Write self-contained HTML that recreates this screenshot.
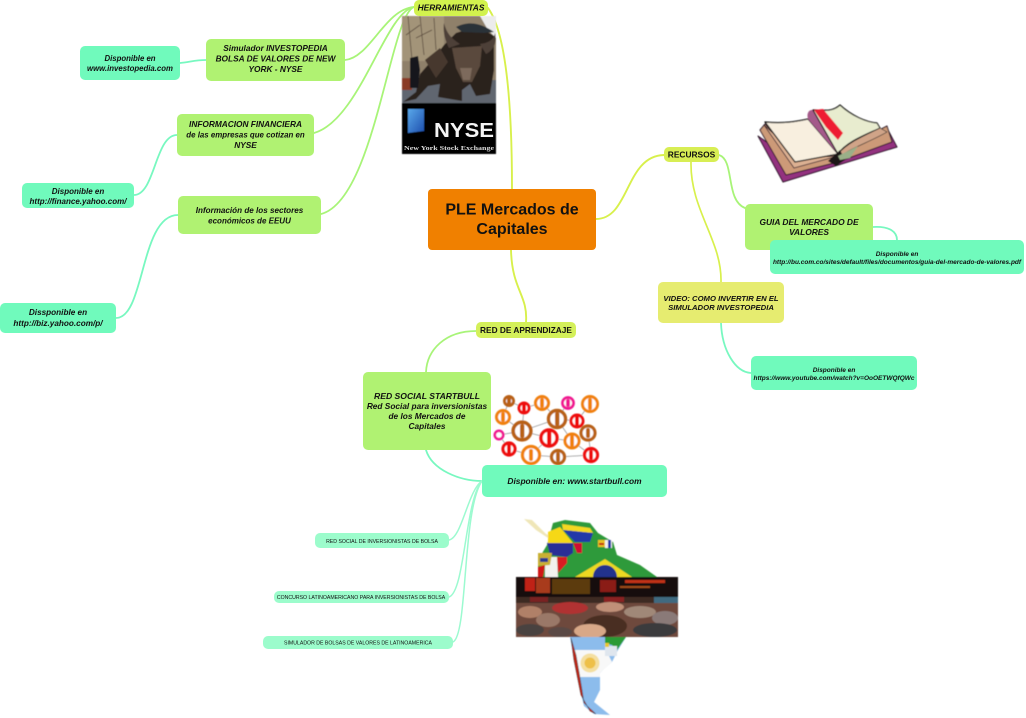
<!DOCTYPE html>
<html>
<head>
<meta charset="utf-8">
<style>
html,body{margin:0;padding:0;background:#fff;width:1026px;height:718px;overflow:hidden}
svg{display:block}
text{font-family:"Liberation Sans",sans-serif;fill:#111;text-anchor:middle;filter:blur(.25px)}
.bi{font-weight:bold;font-style:italic}
.b{font-weight:bold}
</style>
</head>
<body>
<svg width="1026" height="718" viewBox="0 0 1026 718" xmlns="http://www.w3.org/2000/svg">
<defs>
<filter id="bl" x="-5%" y="-5%" width="110%" height="110%"><feGaussianBlur stdDeviation="0.6"/></filter>
<filter id="bl2" x="-5%" y="-5%" width="110%" height="110%"><feGaussianBlur stdDeviation="1"/></filter>
<linearGradient id="nb" x1="0" y1="0" x2="1" y2="1"><stop offset="0" stop-color="#5aa8ea"/><stop offset="1" stop-color="#1d4fae"/></linearGradient>
</defs>

<!-- connectors -->
<g fill="none" stroke-linecap="round">
<g stroke="#d8f04c" stroke-width="1.9">
<path d="M512 189C512 120 508 35 488 8"/>
<path d="M596 219C630 219 625 156 664 155"/>
<path d="M511 250C512 290 528 295 526 322"/>
</g>
<g stroke="#a8f478" stroke-width="1.8">
<path d="M414 7C385 9 370 58 345 60"/>
<path d="M414 7C385 12 360 120 314 133"/>
<path d="M414 7C390 15 375 200 321 214"/>
<path d="M476 331C445 331 427 350 426 372"/>
<path d="M719 155C735 160 725 200 745 208"/>
</g>
<g stroke="#d8f04c" stroke-width="1.7">
<path d="M691 162C690 210 722 240 721 282"/>
</g>
<g stroke="#78f8c0" stroke-width="1.8">
<path d="M206 60C195 60 190 62 180 63"/>
<path d="M177 135C155 135 155 195 134 195"/>
<path d="M178 215C140 215 145 318 116 318"/>
<path d="M873 227C890 226 897 232 897 240"/>
<path d="M721 323C722 350 735 372 751 373"/>
<path d="M426 450C432 470 460 481 482 481"/>
</g>
<g stroke="#9cfad0" stroke-width="1.5">
<path d="M449 540C462 538 468 490 482 481"/>
<path d="M449 597C465 592 465 500 482 481"/>
<path d="M453 642C468 635 462 510 482 481"/>
</g>
</g>

<!-- NYSE image -->
<g filter="url(#bl)">
<rect x="402" y="16" width="94" height="87" fill="#8f806a"/>
<rect x="402" y="16" width="42" height="45" fill="#a39479"/>
<g stroke="#5a4a3c" stroke-width="0.8" fill="none">
<path d="M408 16L412 60M406 35L420 25M420 16L424 55M416 38L432 30M434 18L436 50"/>
</g>
<path d="M480 16L496 16L496 38L488 30Z" fill="#ececec"/>
<rect x="402" y="80" width="94" height="23" fill="#606670"/>
<rect x="402" y="78" width="10" height="12" fill="#8a3a28"/>
<path d="M403 102L416 92L420 74L434 58L444 45L456 33L478 26L494 36L494 70L490 94L476 96L470 84L462 90L462 101L438 97L440 84L428 86L416 99Z" fill="#2b221d"/>
<path d="M456 27C470 20 482 24 494 32L484 33L462 32Z" fill="#2a3238"/>
<path d="M449 48C444 38 443 30 444 23C447 34 451 38 460 44Z" fill="#4d4038"/>
<path d="M480 44C488 43 494 40 495 33C497 42 494 50 486 54Z" fill="#4d4038"/>
<path d="M452 48L482 46L480 66L472 82L463 82L456 68Z" fill="#5a4a3e"/>
<path d="M460 68L472 68L470 80L463 80Z" fill="#7d6a5c"/>
<path d="M425 60L440 48L448 62L436 78Z" fill="#46392f"/>
<path d="M410 58L418 56L420 70L418 88L410 88Z" fill="#16181e"/>
<rect x="402" y="103" width="94" height="51" fill="#050305"/>
<path d="M408 109L424 109L424 131L408 133Z" fill="url(#nb)"/>
</g>
<text x="464" y="137" class="b" font-size="20" style="fill:#f4f4f4" textLength="60" lengthAdjust="spacingAndGlyphs">NYSE</text>
<text x="449" y="150" font-size="6.6" style="font-family:'Liberation Serif',serif;fill:#ddd;font-weight:bold" textLength="90" lengthAdjust="spacingAndGlyphs">New York Stock Exchange</text>

<!-- book -->
<g filter="url(#bl)" stroke-linejoin="round">
<path d="M758 136L783 182L897 147L888 130L840 150L800 165Z" fill="#93307f" stroke="#2a1628" stroke-width="1"/>
<path d="M760 130L786 175L838 162L892 142L887 126L840 150L800 160L765 124Z" fill="#cc9a78" stroke="#2a1628" stroke-width="1"/>
<path d="M764 125L794 168L838 156L800 158Z" fill="#dcb092" stroke="#2a1628" stroke-width=".8"/>
<path d="M765 122C785 124 798 121 808 119L838 154L795 162Z" fill="#f8efdf" stroke="#111" stroke-width="1.3"/>
<path d="M808 119C806 112 810 109 814 110L838 154Z" fill="#a45a8a"/>
<path d="M813 110C826 110 832 112 840 105C852 116 866 122 877 123L880 128C865 135 846 142 838 154Z" fill="#e8eccf" stroke="#111" stroke-width="1.2"/>
<path d="M838 154C848 142 868 134 880 128L887 132C870 142 850 148 840 157Z" fill="#d0a488" stroke="#222" stroke-width=".7"/>
<path d="M814 110L823 109L843 133L838 140L826 127Z" fill="#ee1a30"/>
<path d="M828 161L840 150L845 160L836 166Z" fill="#1c1418"/>
<path d="M838 156L858 146L850 158L840 160Z" fill="#9ab088"/>
</g>

<!-- network -->
<g filter="url(#bl)">
<g stroke="#999" stroke-width="0.8" fill="none">
<path d="M522 431L557 419L577 421L588 433L591 455M590 404L577 421M557 419L568 403M557 419L542 403L524 408L509 401L503 417L522 431L499 435L509 449L531 455L558 457L591 455L572 441L549 438L531 455M549 438L522 431M524 408L522 431M572 441L557 419"/>
</g>
<g fill="#fff">
<circle cx="503" cy="417" r="6.500" stroke="#f08010" stroke-width="3"/>
<circle cx="509" cy="401" r="4.500" stroke="#b86018" stroke-width="3"/>
<circle cx="524" cy="408" r="5" stroke="#ee1010" stroke-width="3"/>
<circle cx="542" cy="403" r="6.500" stroke="#f08010" stroke-width="3"/>
<circle cx="568" cy="403" r="5.500" stroke="#f01890" stroke-width="2.800"/>
<circle cx="590" cy="404" r="7.500" stroke="#f08010" stroke-width="3"/>
<circle cx="557" cy="419" r="8.500" stroke="#b86018" stroke-width="3.400"/>
<circle cx="577" cy="421" r="6" stroke="#ee1010" stroke-width="3"/>
<circle cx="522" cy="431" r="8.800" stroke="#b86018" stroke-width="3.600"/>
<circle cx="499" cy="435" r="4.200" stroke="#f01890" stroke-width="2.600"/>
<circle cx="549" cy="438" r="8" stroke="#ee1010" stroke-width="3.400"/>
<circle cx="572" cy="441" r="7" stroke="#f08010" stroke-width="3"/>
<circle cx="588" cy="433" r="7" stroke="#b86018" stroke-width="3.200"/>
<circle cx="509" cy="449" r="6" stroke="#ee1010" stroke-width="3.200"/>
<circle cx="531" cy="455" r="8.500" stroke="#f08010" stroke-width="3.200"/>
<circle cx="558" cy="457" r="6.500" stroke="#b86018" stroke-width="3.200"/>
<circle cx="591" cy="455" r="6.500" stroke="#ee1010" stroke-width="3.200"/>
</g>
<g>
<rect x="501" y="412" width="4" height="10" rx="2" fill="#f08010"/>
<rect x="507" y="397" width="4" height="8" rx="2" fill="#b86018"/>
<rect x="522" y="404" width="4" height="8" rx="2" fill="#ee1010"/>
<rect x="540" y="398" width="4" height="10" rx="2" fill="#f08010"/>
<rect x="566" y="399" width="4" height="8" rx="2" fill="#f01890"/>
<rect x="588" y="398" width="4" height="12" rx="2" fill="#f08010"/>
<rect x="555" y="412" width="4.400" height="14" rx="2" fill="#b86018"/>
<rect x="575" y="416" width="4" height="10" rx="2" fill="#ee1010"/>
<rect x="520" y="424" width="4.400" height="14" rx="2" fill="#b86018"/>
<rect x="547" y="431" width="4.400" height="14" rx="2" fill="#ee1010"/>
<rect x="570" y="435" width="4" height="12" rx="2" fill="#f08010"/>
<rect x="586" y="428" width="4" height="10" rx="2" fill="#b86018"/>
<rect x="507" y="444" width="4" height="10" rx="2" fill="#ee1010"/>
<rect x="529" y="449" width="4" height="12" rx="2" fill="#f08010"/>
<rect x="556" y="452" width="4" height="10" rx="2" fill="#b86018"/>
<rect x="589" y="450" width="4" height="10" rx="2" fill="#ee1010"/>
</g>
</g>

<!-- South America -->
<g filter="url(#bl)">
<path d="M553 523L565 520L590 523L598 533L613 542L617 555L640 565L657 577L538 577L538 560L547 545Z" fill="#2f9a3a"/>
<path d="M524 519L532 520L546 534L552 536L548 538L536 530Z" fill="#efe6b8"/>
<path d="M548 532L560 527L573 543L548 543Z" fill="#f6d818"/>
<path d="M547 543L573 543L573 553L567 557L550 555Z" fill="#2b2f96"/>
<path d="M562 524L590 528L593 533L563 530Z" fill="#f4d820"/>
<path d="M563 530L593 533L590 542L575 542Z" fill="#2238a8"/>
<path d="M573 543L582 543L582 553L577 553Z" fill="#cf1030"/>
<path d="M567 557L557 557L558 573L567 563Z" fill="#d81a20"/>
<path d="M545 557L557 557L558 577L545 577Z" fill="#f2f2ee"/>
<path d="M538 553L552 553L550 565L538 566Z" fill="#c8b030"/>
<path d="M540 558L548 558L548 562L540 562Z" fill="#2a3a90"/>
<path d="M538 567L545 565L543 577L538 577Z" fill="#d01818"/>
<rect x="598" y="540" width="7" height="7" fill="#e8c020"/>
<rect x="599" y="543" width="5" height="2" fill="#c01818"/>
<rect x="605" y="540" width="7" height="8" fill="#f0f0f0"/>
<rect x="608" y="540" width="3" height="8" fill="#2238a8"/>
<path d="M575 577L605 559L632 577Z" fill="#ecd820"/>
<path d="M593 577A12 12 0 0 1 617 577Z" fill="#23308c"/>

<rect x="516" y="577" width="162" height="60" fill="#3c2a22"/>
<rect x="516" y="577" width="162" height="20" fill="#120c08"/>
<rect x="525" y="578" width="10" height="13" fill="#c02018"/>
<rect x="536" y="578" width="14" height="15" fill="#a83a1a"/>
<rect x="552" y="579" width="38" height="15" fill="#5c3a10"/>
<rect x="600" y="580" width="16" height="12" fill="#8a1c14"/>
<rect x="625" y="580" width="40" height="3" fill="#c03018"/>
<rect x="620" y="586" width="30" height="2" fill="#9a4a18"/>
<rect x="654" y="597" width="24" height="9" fill="#406a80"/>
<rect x="530" y="597" width="18" height="5" fill="#7a2020"/>
<rect x="604" y="597" width="20" height="5" fill="#8a2020"/>
<rect x="516" y="603" width="162" height="34" fill="#6e4a3c"/>
<ellipse cx="530" cy="612" rx="12" ry="6" fill="#b08068"/>
<ellipse cx="548" cy="620" rx="12" ry="7" fill="#9a7868"/>
<ellipse cx="570" cy="608" rx="18" ry="6" fill="#b03030"/>
<ellipse cx="610" cy="607" rx="14" ry="5" fill="#c09078"/>
<ellipse cx="640" cy="612" rx="16" ry="6" fill="#a08878"/>
<ellipse cx="665" cy="618" rx="13" ry="7" fill="#8a7a78"/>
<ellipse cx="530" cy="630" rx="14" ry="6" fill="#4a4240"/>
<ellipse cx="560" cy="632" rx="12" ry="5" fill="#5a4a44"/>
<ellipse cx="605" cy="626" rx="22" ry="11" fill="#4a2e20"/>
<ellipse cx="590" cy="631" rx="16" ry="7" fill="#d8a888"/>
<ellipse cx="655" cy="630" rx="22" ry="7" fill="#3a3a3e"/>

<path d="M570 637L626 637L618 650L612 662L605 668L600 673L600 690L594 702L610 715L594 714L584 706L580 690L576 670Z" fill="#8cbcec"/>
<path d="M573 650L606 650L612 662L600 673L600 677L578 677Z" fill="#f8f8f8"/>
<path d="M571 638L574 660L578 680L581 695L590 711L596 714L584 703L582 690L579 672L576 655Z" fill="#c02818" stroke="#222" stroke-width="0.5"/>
<circle cx="590" cy="663" r="9.500" fill="#f4dfa0"/>
<circle cx="590" cy="663" r="5.500" fill="#eec048"/>
<path d="M605 637L626 637L617 650L612 645L605 643Z" fill="#2a9a36"/>
<rect x="605" y="646" width="12" height="10" fill="#dfe6ee"/>
<rect x="605" y="643" width="4" height="4" fill="#e8c830"/>
</g>

<!-- nodes -->
<rect x="428" y="189" width="168" height="61" rx="4" fill="#f08000"/>
<text x="512" y="214.500" class="b" font-size="16">PLE Mercados de</text>
<text x="512" y="234" class="b" font-size="16">Capitales</text>

<rect x="414" y="0" width="74" height="16" rx="5" fill="#d2f24e"/>
<text x="451" y="10.500" class="bi" font-size="8.400">HERRAMIENTAS</text>

<rect x="664" y="147" width="55" height="15" rx="5" fill="#d8ee54"/>
<text x="691.500" y="157.500" class="b" font-size="8.400">RECURSOS</text>

<rect x="476" y="322" width="100" height="16" rx="5" fill="#d4f05a"/>
<text x="526" y="333" class="b" font-size="8.300">RED DE APRENDIZAJE</text>

<rect x="206" y="39" width="139" height="42" rx="5" fill="#b0f272"/>
<text x="275.500" y="51" class="bi" font-size="8.300">Simulador INVESTOPEDIA</text>
<text x="275.500" y="61.500" class="bi" font-size="8.300">BOLSA DE VALORES DE NEW</text>
<text x="275.500" y="72" class="bi" font-size="8.300">YORK - NYSE</text>

<rect x="177" y="114" width="137" height="42" rx="5" fill="#b0f272"/>
<text x="245.500" y="127" class="bi" font-size="8.300">INFORMACION FINANCIERA</text>
<text x="245.500" y="137.500" class="bi" font-size="7.900">de las empresas que cotizan en</text>
<text x="245.500" y="148" class="bi" font-size="8.300">NYSE</text>

<rect x="178" y="196" width="143" height="38" rx="5" fill="#b0f272"/>
<text x="249.500" y="213" class="bi" font-size="8.100">Información de los sectores</text>
<text x="249.500" y="223.500" class="bi" font-size="8">económicos de EEUU</text>

<rect x="745" y="204" width="128" height="46" rx="5" fill="#b0f272"/>
<text x="809" y="225" class="bi" font-size="8.400">GUIA DEL MERCADO DE</text>
<text x="809" y="235" class="bi" font-size="8.400">VALORES</text>

<rect x="363" y="372" width="128" height="78" rx="5" fill="#b0f272"/>
<text x="427" y="399" class="bi" font-size="8.600">RED SOCIAL STARTBULL</text>
<text x="427" y="409" class="bi" font-size="8.300">Red Social para inversionistas</text>
<text x="427" y="419" class="bi" font-size="8.300">de los Mercados de</text>
<text x="427" y="429" class="bi" font-size="8.300">Capitales</text>

<rect x="658" y="282" width="126" height="41" rx="5" fill="#e6ec70"/>
<text x="721" y="301" class="bi" font-size="7.700">VIDEO: COMO INVERTIR EN EL</text>
<text x="721" y="310" class="bi" font-size="7.700">SIMULADOR INVESTOPEDIA</text>

<rect x="80" y="46" width="100" height="34" rx="5" fill="#70fabc"/>
<text x="130" y="61" class="bi" font-size="7.800">Disponible en</text>
<text x="130" y="71" class="bi" font-size="7.800">www.investopedia.com</text>

<rect x="22" y="183" width="112" height="25" rx="5" fill="#70fabc"/>
<text x="78" y="194" class="bi" font-size="8">Disponible en</text>
<text x="78" y="204" class="bi" font-size="8">http://finance.yahoo.com/</text>

<rect x="0" y="303" width="116" height="30" rx="5" fill="#70fabc"/>
<text x="58" y="315" class="bi" font-size="8.200">Dissponible en</text>
<text x="58" y="326" class="bi" font-size="8.200">http://biz.yahoo.com/p/</text>

<rect x="770" y="240" width="254" height="34" rx="5" fill="#70fabc"/>
<text x="897" y="256" class="bi" font-size="6.500">Disponible en</text>
<text x="897" y="264" class="bi" font-size="6.500">http://bu.com.co/sites/default/files/documentos/guia-del-mercado-de-valores.pdf</text>

<rect x="751" y="356" width="166" height="34" rx="5" fill="#70fabc"/>
<text x="834" y="372" class="bi" font-size="6.500">Disponible en</text>
<text x="834" y="380" class="bi" font-size="6.500">https://www.youtube.com/watch?v=OoOETWQfQWc</text>

<rect x="482" y="465" width="185" height="32" rx="5" fill="#70fabc"/>
<text x="574.500" y="484" class="bi" font-size="8.400">Disponible en: www.startbull.com</text>

<rect x="315" y="533" width="134" height="15" rx="5" fill="#9cfccc"/>
<text x="382" y="543" font-size="5.200">RED SOCIAL DE INVERSIONISTAS DE BOLSA</text>

<rect x="274" y="591" width="175" height="12" rx="5" fill="#9cfccc"/>
<text x="361" y="599" font-size="5.200">CONCURSO LATINOAMERICANO PARA INVERSIONISTAS DE BOLSA</text>

<rect x="263" y="636" width="190" height="13" rx="5" fill="#9cfccc"/>
<text x="358" y="644.500" font-size="5.200">SIMULADOR DE BOLSAS DE VALORES DE LATINOAMERICA</text>
</svg>
</body>
</html>
